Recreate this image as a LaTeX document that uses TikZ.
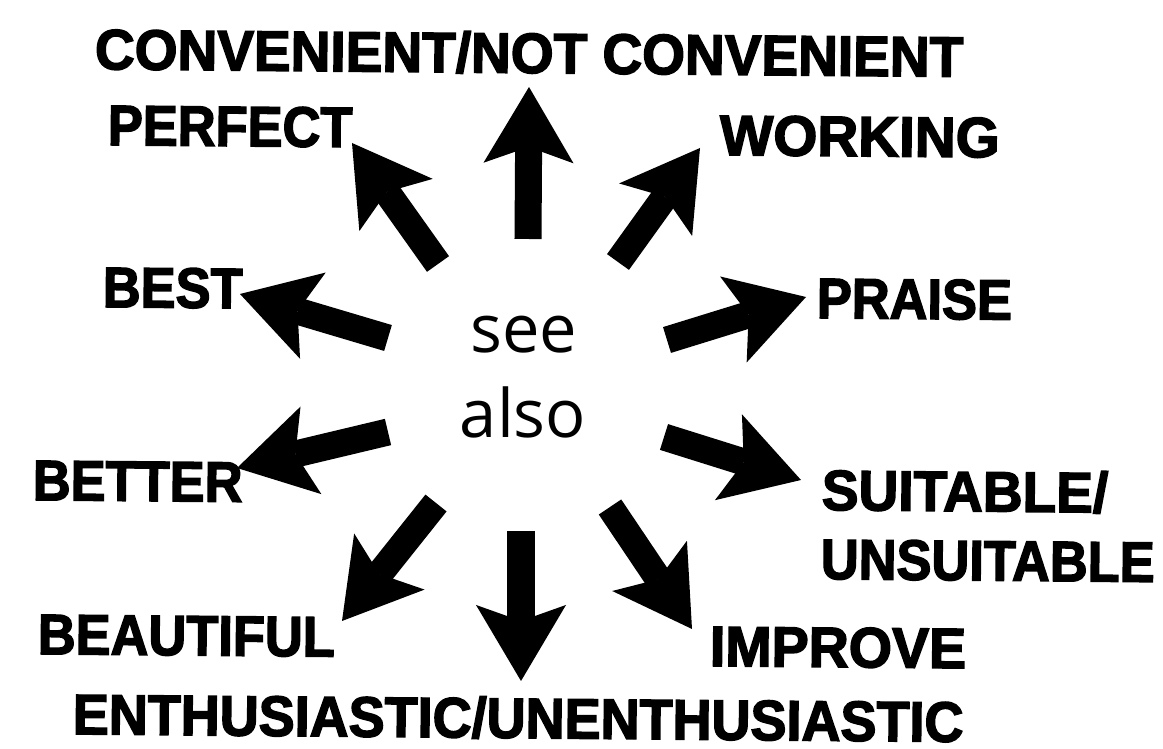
\documentclass[tikz,border=0pt]{standalone}
\usepackage{fontspec}
\newfontfamily\SAlabfont[FakeStretch=0.92,FakeBold=2.5]{Liberation Sans}
\newfontfamily\SAseefont{Open Sans}
\usetikzlibrary{arrows.meta}
\tikzset{SAlab/.style={font={\SAlabfont\bfseries\fontsize{16.2}{19}\selectfont},inner sep=0pt,anchor=base west,rotate=-0.5},
         SAsee/.style={font={\SAseefont\fontsize{19}{23}\selectfont},inner sep=0pt,anchor=base},
         SAarr/.style={line width=2.7mm,-{Stealth[length=7.6mm,width=9mm,inset=1.6mm,line width=0pt]}}}
\begin{document}
\begin{tikzpicture}[x=0.01cm,y=-0.01cm]
  \useasboundingbox (0,0) rectangle (1163,749);
  % centre
  \node[SAsee] (see) at (524,353) {see};
  \node[SAsee] (also) at (523,438) {also};
  % labels round the centre
  \node[SAlab,anchor=base,xscale=1.05] (conv) at (529,73) {CONVENIENT/NOT CONVENIENT};
  \node[SAlab] (perf) at (107,145) {PERFECT};
  \node[SAlab,xscale=1.08] (work) at (719,155) {WORKING};
  \node[SAlab] (best) at (102,307) {BEST};
  \node[SAlab] (praise) at (816,318) {PRAISE};
  \node[SAlab] (better) at (32,500) {BETTER};
  \node[SAlab,xscale=1.05] (suit) at (821,510) {SUITABLE/};
  \node[SAlab] (unsuit) at (820,579) {UNSUITABLE};
  \node[SAlab] (beaut) at (37,654) {BEAUTIFUL};
  \node[SAlab,xscale=1.06] (impr) at (709,666) {IMPROVE};
  \node[SAlab,anchor=base,xscale=1.03] (enth) at (518,738) {ENTHUSIASTIC/UNENTHUSIASTIC};
  % arrows, tail -> tip
  \foreach \n/\a/\b/\c/\d in {conv/528/239/529/87,perf/438/264/352/143,work/618/262/700/148,
      best/388/338/240/294,praise/667/340/806/297,better/388/432/237/468,suit/664/437/801/480,
      beaut/436/503/342/621,enth/521/531/521/681,impr/610/507/692/629}
    {\coordinate (\n-tail) at (\a,\b); \coordinate (\n-tip) at (\c,\d);
     \draw[SAarr] (\n-tail) -- (\n-tip);}
\end{tikzpicture}
\end{document}
